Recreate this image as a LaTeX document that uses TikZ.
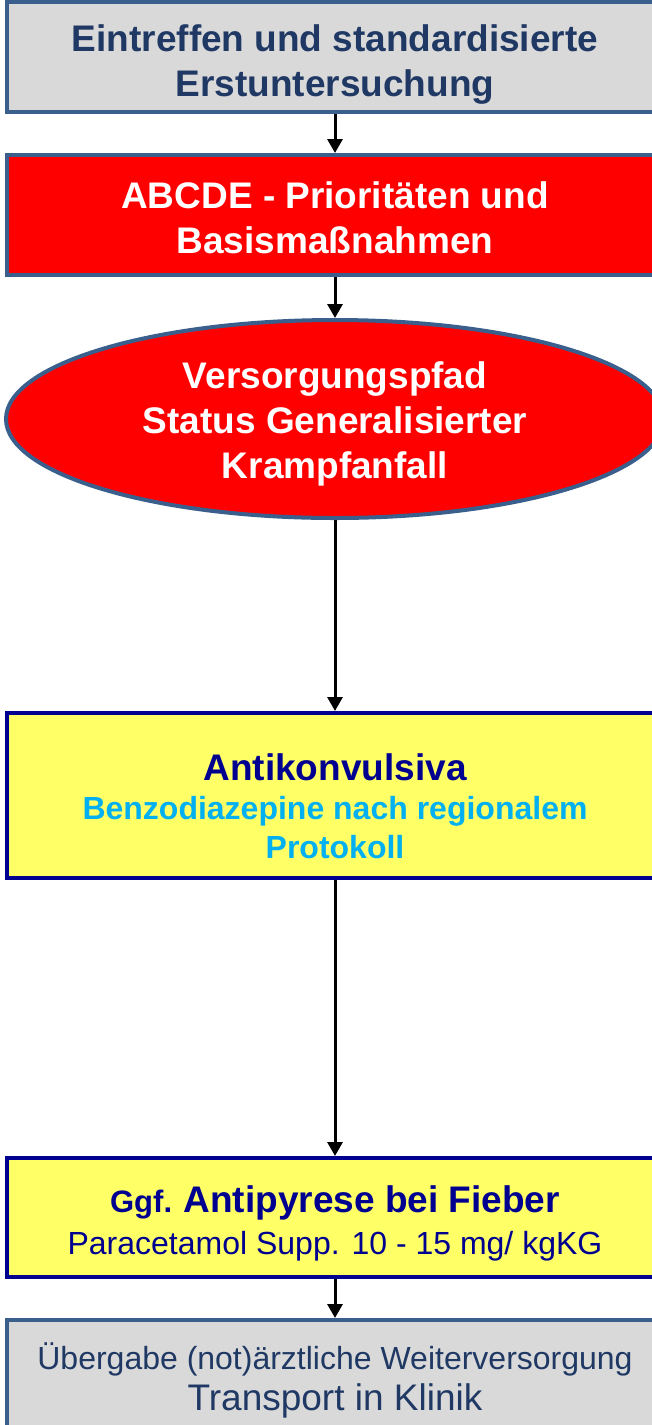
\documentclass[tikz,border=0pt]{standalone}
\usepackage{fontspec}
\setmainfont{Liberation Sans}
\usetikzlibrary{shapes.geometric,arrows.meta}
\definecolor{framec}{HTML}{3B5F8C}
\definecolor{greyc}{HTML}{D9D9D9}
\definecolor{redc}{HTML}{FF0000}
\definecolor{yellowc}{HTML}{FFFF66}
\definecolor{navyc}{HTML}{000090}
\definecolor{slatec}{HTML}{1F3864}
\definecolor{cyanc}{HTML}{00B0F0}
\newcommand{\headsize}{\fontsize{37}{45}\selectfont}
\newcommand{\subsize}{\fontsize{32}{39}\selectfont}
\newcommand{\dropline}[1]{\rule{0pt}{#1}}
\tikzset{
  box/.style={rectangle, line width=4pt, minimum width=656pt, inner sep=0pt, align=center},
  greybox/.style={box, draw=framec, fill=greyc, text=slatec},
  redbox/.style={box, draw=framec, fill=redc, text=white},
  yellowbox/.style={box, draw=navyc, fill=yellowc, text=navyc},
  flow/.style={-{Triangle[length=14pt,width=15pt]}, line width=3pt, black},
}

\begin{document}
\begin{tikzpicture}[x=1pt, y=-1pt]
  \useasboundingbox (0,0) rectangle (651,1425);
  % arrival and first steps
  \node[greybox, minimum height=110pt, font=\headsize\bfseries] (arrive) at (335,57)
    {\dropline{41pt}Eintreffen und standardisierte\\Erstuntersuchung};
  \node[redbox, minimum height=120pt, font=\headsize\bfseries] (abcde) at (335,215)
    {\dropline{33pt}ABCDE - Prioritäten und\\Basismaßnahmen};
  \node[ellipse, draw=framec, line width=4pt, fill=redc, text=white, minimum width=658pt, minimum height=198pt,
        inner sep=0pt, align=center, font=\headsize\bfseries] (pathway) at (335,419)
    {\dropline{37pt}Versorgungspfad\\Status Generalisierter\\Krampfanfall};
  % treatment
  \node[yellowbox, minimum height=165pt, font=\subsize] (anticonv) at (335,795.5)
    {\dropline{49pt}{\headsize\bfseries Antikonvulsiva}\\{\bfseries\color{cyanc}Benzodiazepine nach regionalem}\\{\bfseries\color{cyanc}Protokoll}};
  \node[yellowbox, minimum height=119pt, font=\fontsize{32}{42}\selectfont] (fever) at (335,1217.5)
    {\dropline{39pt}{\fontsize{31}{42}\selectfont\bfseries Ggf. }{\headsize\bfseries Antipyrese bei Fieber}\\Paracetamol Supp. 10 - 15 mg/ kgKG};
  % handover
  \node[greybox, minimum height=120pt, font=\fontsize{32}{41}\selectfont] (handover) at (335,1380)
    {Übergabe (not)ärztliche Weiterversorgung\\{\headsize Transport in Klinik}};
  % connectors
  \draw[flow] (arrive) -- (abcde);
  \draw[flow] (abcde) -- (pathway);
  \draw[flow] (pathway) -- (anticonv);
  \draw[flow] (anticonv) -- (fever);
  \draw[flow] (fever) -- (handover);
\end{tikzpicture}
\end{document}
